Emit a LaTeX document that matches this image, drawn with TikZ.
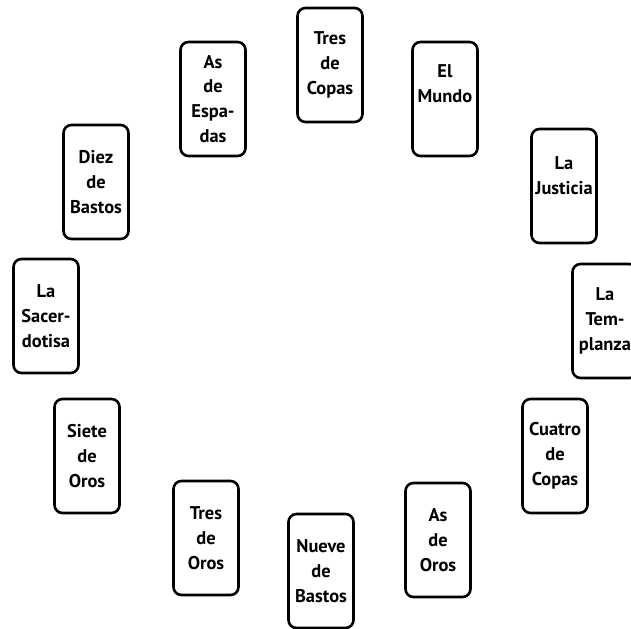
\documentclass[tikz,border=0pt]{standalone}
\usepackage{fontspec}
\setmainfont{PT Sans}
\usetikzlibrary{positioning}

\begin{document}
\begin{tikzpicture}[x=1bp, y=-1bp, thick,
		card/.style={draw, line width=2.6bp, rounded corners=8bp,
			minimum width=65bp, minimum height=114bp, inner sep=1bp,
			align=center, font=\bfseries\fontsize{18.5}{25}\selectfont}]
	\useasboundingbox (0,0) rectangle (631,629);

	% upper half of the circle
	\node[card] (trescopas) at (330, 65) {Tres\\de\\Copas};
	\node[card] (asespadas) at (213, 99) {As\\de\\Espa-\\das};
	\node[card, text depth=30bp] (mundo) at (445, 99) {El\\Mundo};
	\node[card] (diezbastos) at (96, 182) {Diez\\de\\Bastos};
	\node[card, text depth=20bp] (justicia) at (564, 186) {La\\Justicia};
	\node[card] (sacerdotisa) at (46, 316) {La\\Sacer-\\dotisa};
	\node[card] (templanza) at (605, 321) {La\\Tem-\\planza};

	% lower half
	\node[card] (sieteoros) at (87, 456) {Siete\\de\\Oros};
	\node[card] (cuatrocopas) at (555, 456) {Cuatro\\de\\Copas};
	\node[card] (tresoros) at (206, 538) {Tres\\de\\Oros};
	\node[card] (asoros) at (438, 540) {As\\de\\Oros};
	\node[card] (nuevebastos) at (321, 571) {Nueve\\de\\Bastos};
\end{tikzpicture}
\end{document}
